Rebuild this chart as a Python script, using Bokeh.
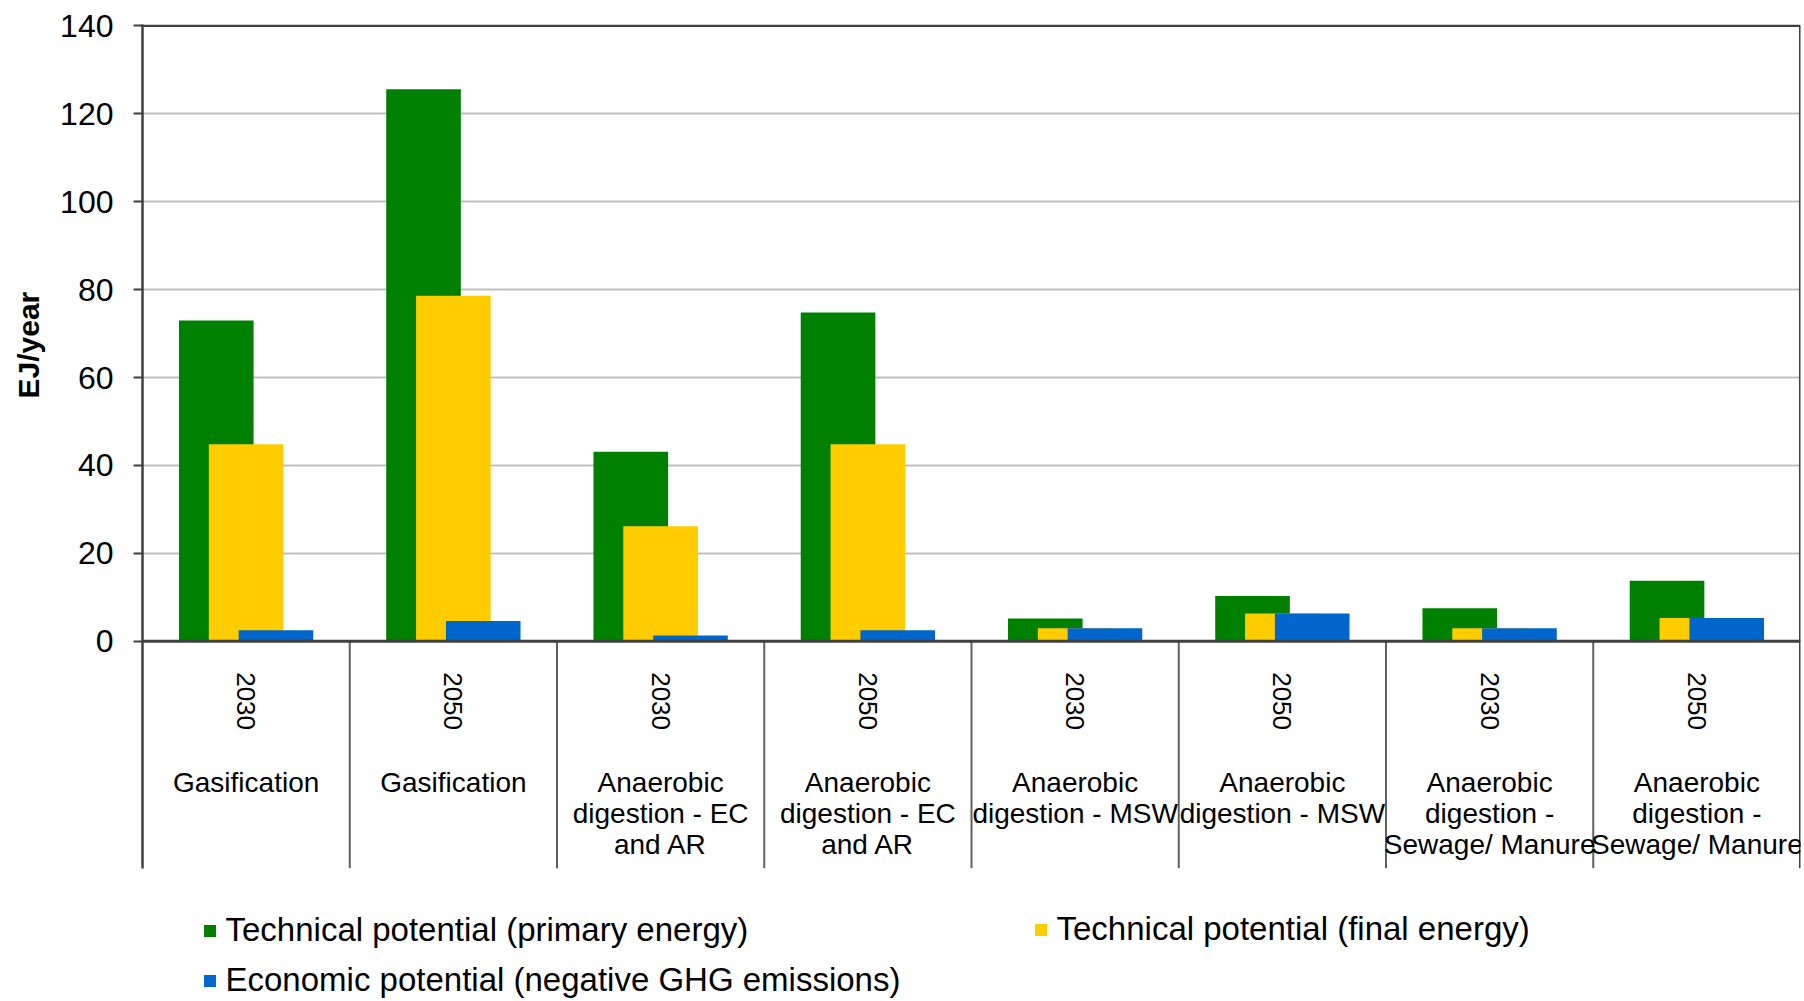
import math
from bokeh.plotting import figure
from bokeh.models import (Range1d, FixedTicker, Span, Legend, LegendItem, Title,
                          ColumnDataSource)
from bokeh.core.properties import value
from bokeh.embed import file_html
from bokeh.resources import INLINE

# ---------------- data ----------------
technologies = [
    "Gasification", "Gasification",
    "Anaerobic\ndigestion - EC\nand AR", "Anaerobic\ndigestion - EC\nand AR",
    "Anaerobic\ndigestion - MSW", "Anaerobic\ndigestion - MSW",
    "Anaerobic\ndigestion -\nSewage/ Manure", "Anaerobic\ndigestion -\nSewage/ Manure",
]
years = ["2030", "2050", "2030", "2050", "2030", "2050", "2030", "2050"]
primary_energy = [73.0, 125.6, 43.1, 74.8, 5.2, 10.3, 7.5, 13.8]
final_energy = [44.8, 78.6, 26.2, 44.8, 3.0, 6.3, 3.0, 5.3]
economic_potential = [2.5, 4.6, 1.3, 2.5, 3.0, 6.3, 3.0, 5.3]
series_names = [
    "Technical potential (primary energy)",
    "Technical potential (final energy)",
    "Economic potential (negative GHG emissions)",
]
series_colors = ["#008000", "#FFCC00", "#0066CC"]
y_ticks = [0, 20, 40, 60, 80, 100, 120, 140]
y_label = "EJ/year"

# ---------------- layout constants ----------------
FONT = "Liberation Sans"
AXIS_COLOR = "#404040"
Y_MIN, Y_MAX = -81.7, 140.3
DIV_BOTTOM = -51.6
BAR_W = 0.36
OFFSET = 0.144

n = len(years)
centers = [i + 0.5 for i in range(n)]

src = ColumnDataSource(dict(
    center=centers,
    x_primary=[c - OFFSET for c in centers],
    x_final=centers,
    x_econ=[c + OFFSET for c in centers],
    primary=primary_energy,
    final=final_energy,
    econ=economic_potential,
    year=years,
    tech=technologies,
))

p = figure(width=1803, height=1000, x_range=Range1d(0, n), y_range=Range1d(Y_MIN, Y_MAX),
           output_backend="svg", toolbar_location=None, x_axis_location=None,
           min_border_left=142, min_border_right=3, min_border_top=24, min_border_bottom=0)
p.outline_line_color = None
p.background_fill_color = "white"
p.border_fill_color = "white"

# y axis
yax = p.yaxis[0]
yax.ticker = FixedTicker(ticks=y_ticks)
yax.bounds = (DIV_BOTTOM, Y_MAX)
yax.major_label_text_font = FONT
yax.major_label_text_font_size = "32px"
yax.major_label_text_color = "black"
yax.axis_line_color = AXIS_COLOR
yax.axis_line_width = 2.5
yax.major_tick_line_color = AXIS_COLOR
yax.major_tick_line_width = 2
yax.major_tick_out = 9
yax.major_tick_in = 0
yax.minor_tick_line_color = None
yax.major_label_standoff = 20

# y axis title on the left, placed along the 0..140 part of the axis
p.add_layout(Title(text=y_label, align="left", vertical_align="top", offset=602,
                   text_font=FONT, text_font_style="bold", text_font_size="30px",
                   text_color="black", standoff=22), "left")

p.xgrid.visible = False
p.ygrid.ticker = FixedTicker(ticks=y_ticks[1:-1])
p.ygrid.grid_line_color = "#c0c0c0"
p.ygrid.grid_line_width = 2

# bars
r_primary = p.vbar(x="x_primary", top="primary", bottom=0, width=BAR_W, source=src,
                   fill_color=series_colors[0], line_color=None)
r_final = p.vbar(x="x_final", top="final", bottom=0, width=BAR_W, source=src,
                 fill_color=series_colors[1], line_color=None)
r_econ = p.vbar(x="x_econ", top="econ", bottom=0, width=BAR_W, source=src,
                fill_color=series_colors[2], line_color=None)

# frame borders (top & right) and category dividers
p.segment(x0=[0], y0=[y_ticks[-1]], x1=[n], y1=[y_ticks[-1]], line_color=AXIS_COLOR, line_width=2.5)
p.segment(x0=[n], y0=[DIV_BOTTOM], x1=[n], y1=[y_ticks[-1]], line_color=AXIS_COLOR, line_width=3)
p.segment(x0=list(range(1, n)), y0=[0] * (n - 1), x1=list(range(1, n)), y1=[DIV_BOTTOM] * (n - 1),
          line_color="#606060", line_width=2)
p.add_layout(Span(location=0, dimension="width", line_color=AXIS_COLOR, line_width=3))

# category labels
p.text(x="center", y=-13.6, text="year", source=src, angle=-math.pi / 2,
       text_align="center", text_baseline="middle", text_font=value(FONT),
       text_font_size="26px", text_color="black")
p.text(x="center", y=-28.7, text="tech", source=src,
       text_align="center", text_baseline="top", text_font=value(FONT),
       text_font_size="28px", text_color="black", text_line_height=1.0)

# legends (inside the extended frame, below the category labels)
common = dict(margin=0, padding=0, border_line_color=None, background_fill_alpha=0,
              label_text_font=FONT, label_text_font_size="33px", label_text_color="black",
              glyph_width=15, glyph_height=15, label_standoff=9, spacing=12,
              label_height=35)
leg_a = Legend(items=[LegendItem(label=series_names[0], renderers=[r_primary]),
                      LegendItem(label=series_names[2], renderers=[r_econ])],
               location=(59.5, 1), **common)
leg_b = Legend(items=[LegendItem(label=series_names[1], renderers=[r_final])],
               location=(890.5, 52), **common)
p.add_layout(leg_a, "center")
p.add_layout(leg_b, "center")

open("out.html", "w").write(file_html(p, INLINE))
